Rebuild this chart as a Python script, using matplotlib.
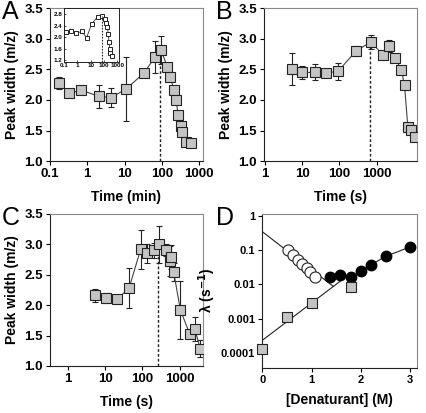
import numpy as np
import matplotlib
matplotlib.use("Agg")
import matplotlib.pyplot as plt
from matplotlib.ticker import FixedLocator, FixedFormatter, NullLocator

plt.rcParams['font.family'] = ['Liberation Sans', 'DejaVu Sans']
plt.rcParams['font.weight'] = 'bold'

# ── DATA ────────────────────────────────────────────────────────────────
# Panel A (time in min)
a_t   = [0.17, 0.33, 0.7, 2.0, 4.4, 11, 33, 65, 96, 138, 170, 206, 238, 276, 326, 356, 443, 600]
a_w   = [2.28, 2.11, 2.16, 2.06, 2.04, 2.18, 2.44, 2.70, 2.82, 2.54, 2.38, 2.17, 2.00, 1.75, 1.57, 1.48, 1.32, 1.29]
a_err = [0.10, 0.04, 0.03, 0.19, 0.15, 0.53, 0.0, 0.26, 0.23, 0.05, 0.05, 0.06, 0.06, 0.05, 0.05, 0.04, 0.04, 0.04]
a_peak = 90

# Panel A inset
ai_t = [0.15, 0.35, 0.78, 2.2, 4.9, 12, 33, 72, 127, 150, 180, 205, 235, 265, 300, 400]
ai_w = [2.18, 2.22, 2.14, 2.20, 1.99, 2.47, 2.70, 2.72, 2.64, 2.50, 2.35, 2.10, 1.85, 1.60, 1.45, 1.35]
ai_peak = 65

# Panel B (time in s)
b_t   = [5.3, 10, 22, 45, 93, 277, 700, 1450, 2190, 3180, 4540, 5550, 6830, 8400, 10300]
b_w   = [2.50, 2.45, 2.45, 2.44, 2.47, 2.80, 2.95, 2.74, 2.88, 2.68, 2.49, 2.24, 1.55, 1.51, 1.40]
b_err = [0.26, 0.11, 0.13, 0.05, 0.14, 0.08, 0.11, 0.06, 0.10, 0.06, 0.0, 0.0, 0.0, 0.0, 0.0]
b_peak = 680

# Panel C (time in s)
c_t   = [5.5, 10.7, 21, 44, 90, 135, 200, 273, 423, 540, 600, 690, 1050, 1860, 2550, 3600]
c_w   = [2.16, 2.12, 2.10, 2.28, 2.92, 2.85, 2.90, 3.00, 2.90, 2.73, 2.79, 2.55, 1.92, 1.53, 1.61, 1.28]
c_err = [0.11, 0.08, 0.0, 0.33, 0.32, 0.16, 0.12, 0.30, 0.10, 0.25, 0.20, 0.15, 0.47, 0.05, 0.20, 0.14]
c_peak = 255

# Panel D (rates vs denaturant)
d_sq_x = [0.0, 0.5, 1.0, 1.8]
d_sq_y = [1.25e-4, 1.15e-3, 2.9e-3, 8.2e-3]
d_open_x = [0.52, 0.62, 0.72, 0.80, 0.90, 0.97, 1.08]
d_open_y = [0.10, 0.072, 0.052, 0.040, 0.031, 0.023, 0.016]
d_fill_x = [1.37, 1.58, 1.80, 2.00, 2.20, 2.50, 3.00]
d_fill_y = [0.016, 0.019, 0.017, 0.024, 0.037, 0.066, 0.125]
d_fold_fit_x = [0.0, 1.44]
d_fold_fit_y = [0.35, 0.0088]
d_unf_fit_x = [0.0, 1.60]
d_unf_fit_y = [2.3e-4, 1.3e-2]

SQ = dict(marker='s', ms=7, mfc='#c4c4c4', mec='#222222', mew=0.8)
LINE = dict(color='#444444', lw=0.8)
ERR = dict(ecolor='#222222', elinewidth=0.8, capsize=2.5, capthick=0.8)
TICK_FS = 9.5


def style(ax, fs=TICK_FS):
    for s in ['top', 'right']:
        ax.spines[s].set_color('#888888')
    for s in ['left', 'bottom']:
        ax.spines[s].set_color('#222222')
    ax.tick_params(direction='out', length=3, width=0.8, labelsize=fs, pad=2)
    for lab in ax.get_xticklabels() + ax.get_yticklabels():
        lab.set_fontweight('bold')


def peak_panel(ax, t, w, err, peak, xlim, xticks, xlabels, xlab):
    ax.plot(t, w, **LINE, zorder=2)
    e = np.array(err)
    ax.errorbar(t, w, yerr=e, fmt='none', **ERR, zorder=1)
    ax.plot(t, w, ls='none', **SQ, zorder=3)
    ax.vlines(peak, 1.0, np.interp(np.log10(peak), np.log10(t), w), colors='#222222',
              linestyles=(0, (2, 1.5)), lw=1.0, zorder=1)
    ax.set_xscale('log')
    ax.set_xlim(*xlim)
    ax.set_ylim(1.0, 3.5)
    ax.xaxis.set_major_locator(FixedLocator(xticks))
    ax.xaxis.set_major_formatter(FixedFormatter(xlabels))
    ax.xaxis.set_minor_locator(NullLocator())
    ax.set_yticks([1.0, 1.5, 2.0, 2.5, 3.0, 3.5])
    ax.set_yticklabels(['1.0', '1.5', '2.0', '2.5', '3.0', '3.5'])
    ax.set_xlabel(xlab, fontsize=10, fontweight='bold', labelpad=7)
    ax.set_ylabel('Peak width (m/z)', fontsize=10, fontweight='bold', labelpad=4)
    style(ax)


fig = plt.figure(figsize=(4.27, 4.13), dpi=100)

axA = fig.add_axes([0.117, 0.610, 0.358, 0.370])
peak_panel(axA, a_t, a_w, a_err, a_peak, (0.1, 1250),
           [0.1, 1, 10, 100, 1000], ['0.1', '1', '10', '100', '1000'], 'Time (min)')

axB = fig.add_axes([0.618, 0.610, 0.358, 0.370])
peak_panel(axB, b_t, b_w, b_err, b_peak, (0.95, 11800),
           [1, 10, 100, 1000], ['1', '10', '100', '1000'], 'Time (s)')

axC = fig.add_axes([0.117, 0.114, 0.358, 0.368])
peak_panel(axC, c_t, c_w, c_err, c_peak, (0.33, 4200),
           [1, 10, 100, 1000], ['1', '10', '100', '1000'], 'Time (s)')

# inset in A
axI = fig.add_axes([0.150, 0.850, 0.128, 0.130])
axI.plot(ai_t, ai_w, color='#333333', lw=0.6)
axI.plot(ai_t, ai_w, ls='none', marker='s', ms=3.2, mfc='white', mec='#222222', mew=0.7)
axI.vlines(ai_peak, 1.15, 2.72, colors='#222222', linestyles=(0, (1.5, 1.2)), lw=0.8)
axI.set_xscale('log')
axI.set_xlim(0.1, 1250)
axI.set_ylim(1.15, 3.0)
axI.xaxis.set_major_locator(FixedLocator([0.1, 1, 10, 100, 1000]))
axI.xaxis.set_major_formatter(FixedFormatter(['0.1', '1', '10', '100', '1000']))
axI.xaxis.set_minor_locator(NullLocator())
axI.set_yticks([1.2, 1.6, 2.0, 2.4, 2.8])
axI.set_yticklabels(['1.2', '1.6', '2.0', '2.4', '2.8'])
for s in axI.spines.values():
    s.set_color('#222222')
    s.set_linewidth(0.7)
axI.tick_params(direction='in', length=1.5, width=0.5, labelsize=4.5, pad=1)

# panel D
axD = fig.add_axes([0.614, 0.110, 0.363, 0.372])
axD.plot(d_fold_fit_x, d_fold_fit_y, color='#222222', lw=0.8, zorder=1)
axD.plot(d_unf_fit_x, d_unf_fit_y, color='#222222', lw=0.8, zorder=1)
axD.plot(d_fill_x, d_fill_y, color='#222222', lw=0.8, zorder=1)
axD.errorbar(d_open_x, d_open_y, yerr=np.array(d_open_y) * 0.15, fmt='none',
             ecolor='#333333', elinewidth=0.6, capsize=1.5, zorder=1)
axD.plot(d_open_x, d_open_y, ls='none', marker='o', ms=8, mfc='white',
         mec='#222222', mew=0.8, zorder=3)
axD.plot(d_fill_x, d_fill_y, ls='none', marker='o', ms=7.5, mfc='black',
         mec='black', zorder=3)
axD.plot(d_sq_x, d_sq_y, ls='none', clip_on=False, zorder=4, **SQ)
axD.set_yscale('log')
axD.set_ylim(3.7e-5, 1.15)
axD.set_xlim(0, 3.14)
axD.set_yticks([1e-4, 1e-3, 1e-2, 1e-1, 1])
axD.set_yticklabels(['0.0001', '0.001', '0.01', '0.1', '1'])
axD.yaxis.set_minor_locator(NullLocator())
axD.set_xticks([0, 1, 2, 3])
axD.set_xlabel('[Denaturant] (M)', fontsize=10, fontweight='bold', labelpad=6)
axD.set_ylabel('λ (s$^{\\mathbf{-1}}$)', fontsize=10, fontweight='bold', labelpad=2)
style(axD, fs=8)

for x, y, lab in [(0.005, 1.0, 'A'), (0.505, 1.0, 'B'), (0.005, 0.502, 'C'), (0.505, 0.502, 'D')]:
    fig.text(x, y, lab, fontsize=18, fontweight='normal', va='top', ha='left')

fig.savefig('out.png', dpi=100)
